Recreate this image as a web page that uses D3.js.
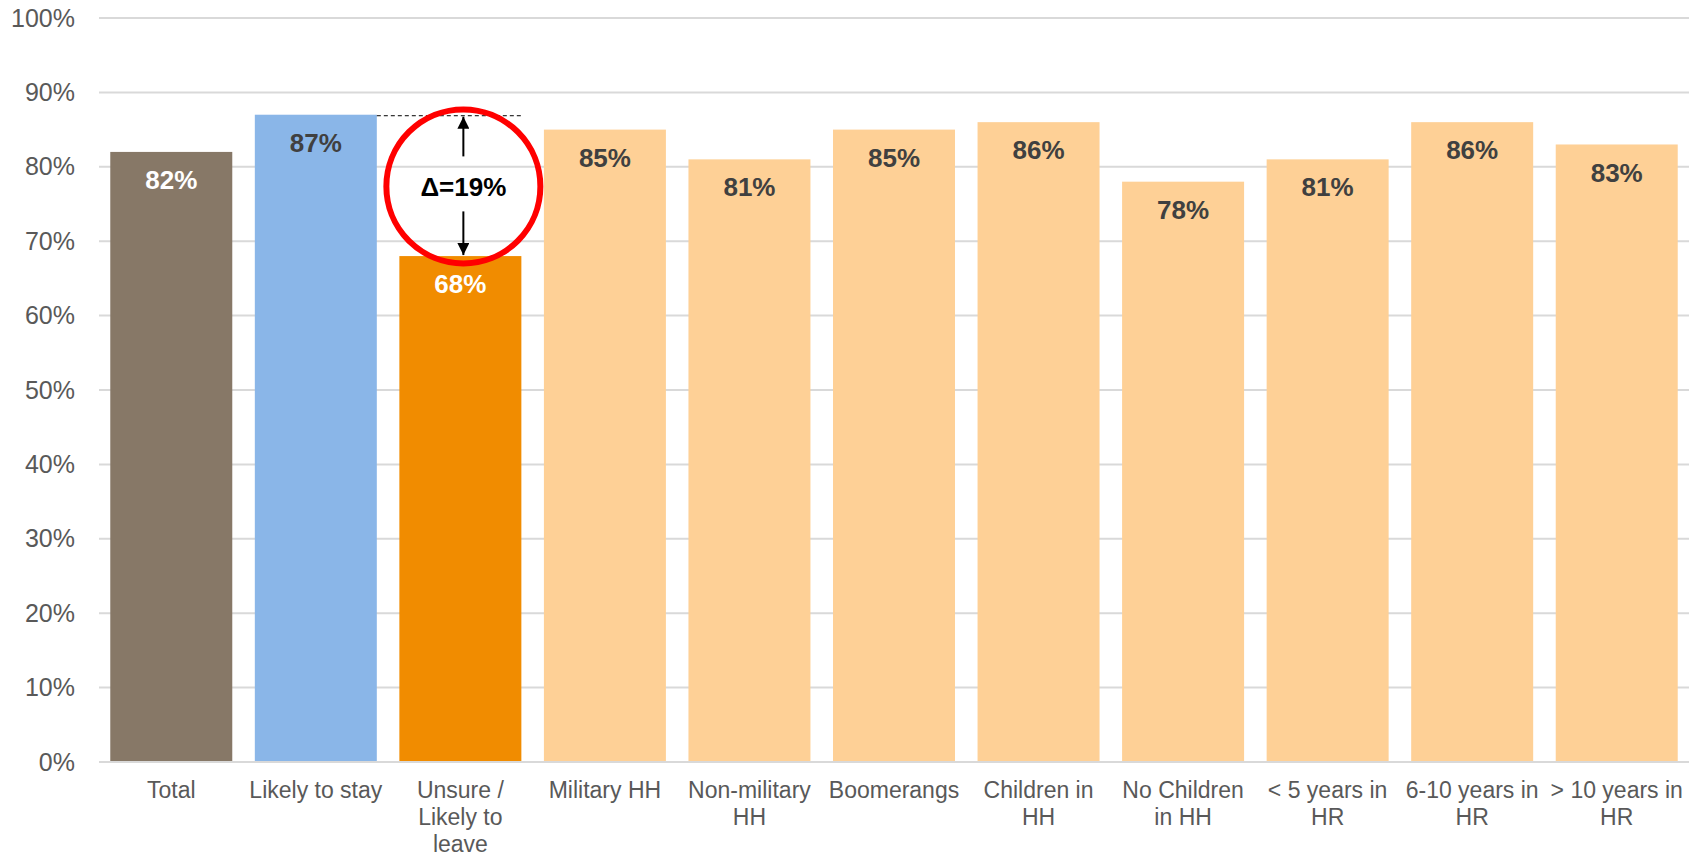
<!DOCTYPE html>
<html>
<head>
<meta charset="utf-8">
<script src="https://cdn.jsdelivr.net/npm/d3@7"></script>
<style>
  html, body { margin: 0; padding: 0; background: #fff; }
  svg { display: block; font-family: "Liberation Sans", Arial, sans-serif; }
</style>
</head>
<body>
<div id="chart"></div>
<script>
// "\n" marks where the category label wraps
const categories = [
  'Total', 'Likely to stay', 'Unsure /\nLikely to\nleave', 'Military HH',
  'Non-military\nHH', 'Boomerangs', 'Children in\nHH', 'No Children\nin HH',
  '< 5 years in\nHR', '6-10 years in\nHR', '> 10 years in\nHR',
];
const values = [82, 87, 68, 85, 81, 85, 86, 78, 81, 86, 83];
const barColors = ['#877867', '#8AB6E8', '#F18C00', '#FED096', '#FED096', '#FED096',
  '#FED096', '#FED096', '#FED096', '#FED096', '#FED096'];
const labelColors = ['#ffffff', '#404040', '#ffffff', '#404040', '#404040', '#404040',
  '#404040', '#404040', '#404040', '#404040', '#404040'];
const yTicks = [0, 10, 20, 30, 40, 50, 60, 70, 80, 90, 100];
const deltaLabel = 'Δ=19%';

const width = 1700;
const height = 857;
const margin = { top: 18, right: 11, bottom: 95, left: 99 };

const svg = d3.select('#chart')
  .append('svg')
  .attr('width', width)
  .attr('height', height);

const x = d3.scaleBand()
  .domain(categories)
  .range([margin.left, width - margin.right])
  .paddingInner(0.156)
  .paddingOuter(0.078);

const y = d3.scaleLinear()
  .domain([0, 100])
  .range([height - margin.bottom, margin.top]);

// gridlines
svg.append('g')
  .selectAll('line')
  .data(yTicks)
  .enter().append('line')
  .attr('x1', margin.left)
  .attr('x2', width - margin.right)
  .attr('y1', (d) => y(d))
  .attr('y2', (d) => y(d))
  .attr('stroke', '#D9D9D9')
  .attr('stroke-width', 2);

// y axis labels
const yAxis = svg.append('g')
  .attr('transform', `translate(${margin.left - 24},0)`)
  .call(d3.axisLeft(y).tickValues(yTicks).tickFormat((d) => `${d}%`).tickSize(0).tickPadding(0));
yAxis.select('.domain').remove();
yAxis.selectAll('text')
  .attr('fill', '#595959')
  .style('font-size', '25px')
  .style('font-family', '"Liberation Sans", Arial, sans-serif');

// bars
const bars = svg.append('g')
  .selectAll('g')
  .data(categories.map((c, i) => ({ c, v: values[i], i })))
  .enter().append('g');

bars.append('rect')
  .attr('x', (d) => x(d.c))
  .attr('y', (d) => y(d.v))
  .attr('width', x.bandwidth())
  .attr('height', (d) => y(0) - y(d.v))
  .attr('fill', (d) => barColors[d.i]);

bars.append('text')
  .attr('x', (d) => x(d.c) + x.bandwidth() / 2)
  .attr('y', (d) => y(d.v) + 28)
  .attr('dy', '0.35em')
  .attr('text-anchor', 'middle')
  .attr('fill', (d) => labelColors[d.i])
  .style('font-size', '26px')
  .style('font-weight', 'bold')
  .text((d) => `${d.v}%`);

// baseline
svg.append('line')
  .attr('x1', margin.left)
  .attr('x2', width - margin.right)
  .attr('y1', y(0))
  .attr('y2', y(0))
  .attr('stroke', '#D9D9D9')
  .attr('stroke-width', 2);

// x axis labels, split on line breaks
const xAxis = svg.append('g')
  .attr('transform', `translate(0,${y(0)})`)
  .call(d3.axisBottom(x).tickSize(0).tickPadding(0));
xAxis.select('.domain').remove();
xAxis.selectAll('text')
  .attr('fill', '#595959')
  .style('font-size', '23px')
  .style('font-family', '"Liberation Sans", Arial, sans-serif')
  .attr('y', 0)
  .attr('dy', null)
  .each(function (d) {
    const text = d3.select(this);
    text.text(null);
    d.split('\n').forEach((line, i) => {
      text.append('tspan')
        .attr('x', 0)
        .attr('y', 36 + i * 27)
        .text(line);
    });
  });

// delta annotation
const iStay = 1;
const iLeave = 2;
const leaveCenter = x(categories[iLeave]) + x.bandwidth() / 2 + 3;
const annot = svg.append('g');

annot.append('line')
  .attr('x1', x(categories[iStay]) + x.bandwidth())
  .attr('x2', x(categories[iLeave]) + x.bandwidth())
  .attr('y1', y(values[iStay]) + 1)
  .attr('y2', y(values[iStay]) + 1)
  .attr('stroke', '#000')
  .attr('stroke-width', 1)
  .attr('stroke-dasharray', '4,3');

const midY = (y(values[iStay]) + y(values[iLeave])) / 2 + 1;

annot.append('circle')
  .attr('cx', leaveCenter)
  .attr('cy', midY)
  .attr('r', 77)
  .attr('fill', 'none')
  .attr('stroke', '#FF0000')
  .attr('stroke-width', 6);

svg.append('defs').append('marker')
  .attr('id', 'arrow')
  .attr('viewBox', '0 0 10 10')
  .attr('refX', 10)
  .attr('refY', 5)
  .attr('markerWidth', 7)
  .attr('markerHeight', 6)
  .attr('markerUnits', 'strokeWidth')
  .attr('orient', 'auto')
  .append('path')
  .attr('d', 'M0,0L10,5L0,10Z')
  .attr('fill', '#000');

annot.append('line')
  .attr('x1', leaveCenter)
  .attr('x2', leaveCenter)
  .attr('y1', midY - 30)
  .attr('y2', y(values[iStay]) + 2)
  .attr('stroke', '#000')
  .attr('stroke-width', 2)
  .attr('marker-end', 'url(#arrow)');

annot.append('line')
  .attr('x1', leaveCenter)
  .attr('x2', leaveCenter)
  .attr('y1', midY + 25)
  .attr('y2', y(values[iLeave]) - 1)
  .attr('stroke', '#000')
  .attr('stroke-width', 2)
  .attr('marker-end', 'url(#arrow)');

annot.append('text')
  .attr('x', leaveCenter)
  .attr('y', midY)
  .attr('dy', '0.35em')
  .attr('text-anchor', 'middle')
  .attr('fill', '#000')
  .style('font-size', '26px')
  .style('font-weight', 'bold')
  .text(deltaLabel);
</script>
</body>
</html>
